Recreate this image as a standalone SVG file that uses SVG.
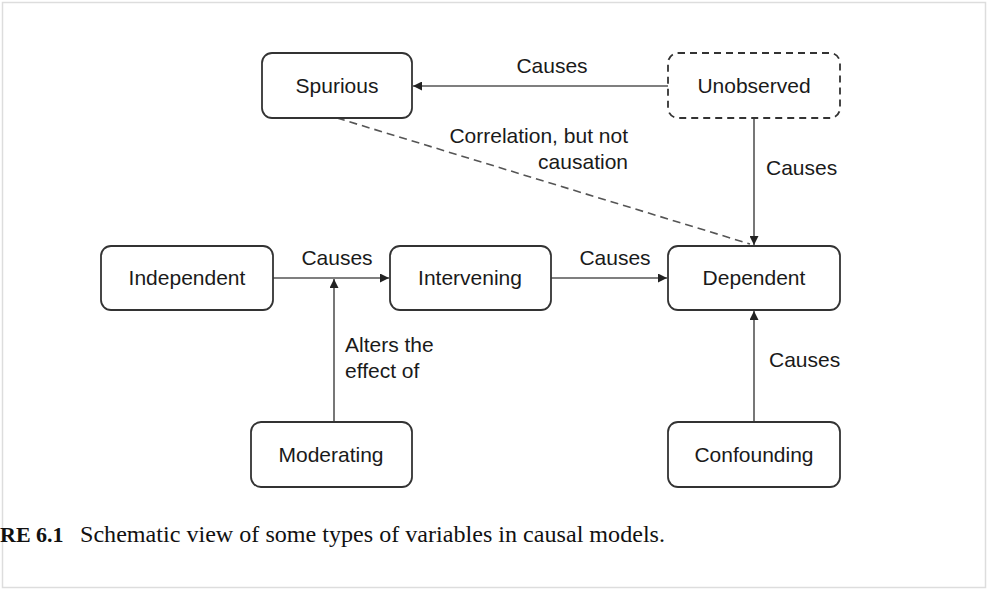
<svg xmlns="http://www.w3.org/2000/svg" width="988" height="590" viewBox="0 0 988 590">
<style>
.box{fill:#fff;stroke:#333;stroke-width:1.8}
.dash{stroke-dasharray:7 5}
.lbl{font-family:"Liberation Sans",Arial,sans-serif;font-size:21px;fill:#1a1a1a}
.ctr{text-anchor:middle}
.edge{stroke:#555;stroke-width:1.6;fill:none}
.cap{font-family:"Liberation Serif","Times New Roman",serif;font-size:22px;fill:#111}
</style>
<defs>
<marker id="ah" viewBox="0 0 10 10" refX="10" refY="5" markerWidth="9" markerHeight="9" markerUnits="userSpaceOnUse" orient="auto">
<path d="M0,0 L10,5 L0,10 z" fill="#222"/>
</marker>
</defs>
<rect x="2.5" y="2.5" width="983" height="585" fill="#fff" stroke="#ddd" stroke-width="1.5"/>
<g id="connectors">
<line class="edge" x1="668" y1="86" x2="413" y2="86" marker-end="url(#ah)"/>
<line class="edge" x1="754" y1="118" x2="754" y2="245" marker-end="url(#ah)"/>
<line class="edge" x1="337" y1="118" x2="750" y2="244" stroke-dasharray="8 5"/>
<line class="edge" x1="273" y1="278" x2="389" y2="278" marker-end="url(#ah)"/>
<line class="edge" x1="551" y1="278" x2="667" y2="278" marker-end="url(#ah)"/>
<line class="edge" x1="334" y1="422" x2="334" y2="279" marker-end="url(#ah)"/>
<line class="edge" x1="754" y1="422" x2="754" y2="311" marker-end="url(#ah)"/>
<text class="lbl ctr" x="552" y="73">Causes</text>
<text class="lbl" x="766" y="175">Causes</text>
<text class="lbl" x="628" y="143" text-anchor="end">Correlation, but not</text>
<text class="lbl" x="628" y="169" text-anchor="end">causation</text>
<text class="lbl ctr" x="337" y="265">Causes</text>
<text class="lbl ctr" x="615" y="265">Causes</text>
<text class="lbl" x="345" y="352">Alters the</text>
<text class="lbl" x="345" y="378">effect of</text>
<text class="lbl" x="769" y="367">Causes</text>
</g>
<g id="spurious"><rect class="box" x="262" y="53" width="150" height="65" rx="10"/><text class="lbl ctr" x="337" y="93">Spurious</text></g>
<g id="unobserved"><rect class="box dash" x="668" y="53" width="172" height="65" rx="10"/><text class="lbl ctr" x="754" y="93">Unobserved</text></g>
<g id="independent"><rect class="box" x="101" y="246" width="172" height="64" rx="10"/><text class="lbl ctr" x="187" y="285">Independent</text></g>
<g id="intervening"><rect class="box" x="390" y="246" width="161" height="64" rx="10"/><text class="lbl ctr" x="470" y="285">Intervening</text></g>
<g id="dependent"><rect class="box" x="668" y="246" width="172" height="64" rx="10"/><text class="lbl ctr" x="754" y="285">Dependent</text></g>
<g id="moderating"><rect class="box" x="251" y="422" width="161" height="65" rx="10"/><text class="lbl ctr" x="331" y="462">Moderating</text></g>
<g id="confounding"><rect class="box" x="668" y="422" width="172" height="65" rx="10"/><text class="lbl ctr" x="754" y="462">Confounding</text></g>
<text class="cap" x="0" y="542"><tspan font-weight="bold">RE 6.1</tspan><tspan x="80" font-size="23" textLength="585" lengthAdjust="spacingAndGlyphs">Schematic view of some types of variables in causal models.</tspan></text>
</svg>
